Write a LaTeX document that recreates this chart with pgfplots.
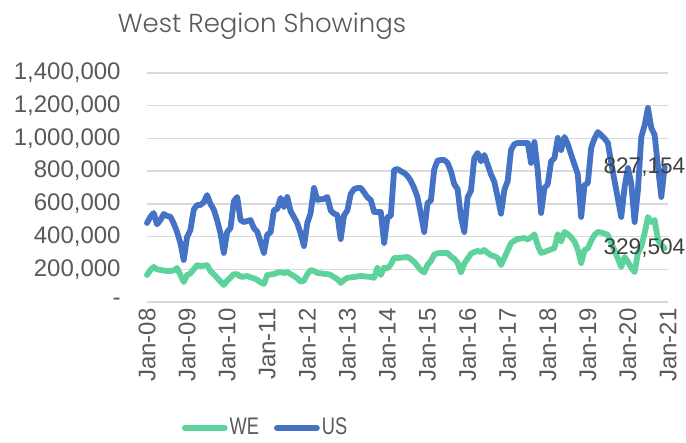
\documentclass[border=0pt]{standalone}
\usepackage{fontspec}
\setmainfont{Liberation Sans}
\newfontfamily\titlefont{Poppins}[UprightFont={* Light}]
\usepackage{pgfplots}
\usepackage{pgfplotstable}
\pgfplotsset{compat=1.18}
\definecolor{usblue}{HTML}{4472C4}
\definecolor{wegreen}{HTML}{5DD39B}
\definecolor{txtgray}{HTML}{595959}
\definecolor{lblgray}{HTML}{404040}
\definecolor{gridgray}{HTML}{D9D9D9}

% month index (0 = Jan-08), WE, US
\pgfplotstableread{
m we us
0 165000 483000
1 195000 520000
2 214000 544000
3 200000 475000
4 196000 500000
5 192000 538000
6 190000 526000
7 190000 522000
8 192000 480000
9 208000 428000
10 165000 360000
11 122000 257000
12 165000 397000
13 175000 440000
14 200000 565000
15 226000 593000
16 220000 593000
17 222000 610000
18 226000 654000
19 190000 600000
20 170000 565000
21 147000 500000
22 125000 420000
23 104000 300000
24 130000 428000
25 150000 452000
26 170000 615000
27 170000 642000
28 155000 501000
29 155000 489000
30 159000 495000
31 150000 501000
32 145000 452000
33 135000 430000
34 120000 367000
35 110000 300000
36 165000 412000
37 168000 425000
38 171000 562000
39 178000 568000
40 183000 636000
41 177000 580000
42 183000 642000
43 170000 555000
44 158000 520000
45 145000 480000
46 125000 420000
47 130000 342000
48 170000 483000
49 195000 544000
50 190000 697000
51 177000 624000
52 175000 628000
53 172000 630000
54 171000 642000
55 165000 560000
56 152000 540000
57 140000 532000
58 116000 385000
59 135000 530000
60 148000 560000
61 150000 660000
62 153000 690000
63 156000 697000
64 159000 697000
65 157000 670000
66 155000 640000
67 153000 624000
68 148000 550000
69 210000 550000
70 165000 550000
71 210000 361000
72 205000 520000
73 230000 526000
74 269000 807000
75 269000 813000
76 271000 800000
77 273000 789000
78 275000 770000
79 262000 740000
80 245000 697000
81 220000 640000
82 195000 540000
83 180000 428000
84 228000 605000
85 250000 620000
86 290000 810000
87 298000 865000
88 300000 868000
89 300000 868000
90 300000 850000
91 278000 800000
92 265000 720000
93 240000 690000
94 180000 520000
95 235000 428000
96 265000 640000
97 295000 680000
98 305000 880000
99 312000 911000
100 306000 860000
101 318000 899000
102 300000 840000
103 285000 780000
104 280000 735000
105 270000 640000
106 225000 540000
107 270000 685000
108 315000 740000
109 360000 930000
110 375000 965000
111 385000 972000
112 388000 972000
113 391000 972000
114 383000 972000
115 395000 850000
116 414000 978000
117 345000 800000
118 300000 544000
119 306000 697000
120 314000 720000
121 322000 860000
122 330000 880000
123 415000 1003000
124 370000 929000
125 428000 1009000
126 415000 965000
127 395000 900000
128 370000 840000
129 320000 780000
130 238000 520000
131 318000 715000
132 328000 727000
133 375000 942000
134 410000 1000000
135 428000 1039000
136 425000 1020000
137 418000 1000000
138 410000 972000
139 360000 850000
140 315000 740000
141 265000 630000
142 214000 520000
143 275000 700000
144 245000 819000
145 210000 727000
146 183000 489000
147 300000 685000
148 340000 1009000
149 420000 1080000
150 520000 1186000
151 489000 1064000
152 501000 1021000
153 379000 825000
154 348000 642000
155 329504 827154
}\showings

\begin{document}
\begin{tikzpicture}
\path[use as bounding box] (0pt,0pt) rectangle (343pt,221.5pt);
\node[font=\titlefont\fontsize{13}{16}\selectfont, text=txtgray, anchor=base] at (131pt,205pt) {West Region Showings};
\begin{axis}[
  at={(73.5pt,70.5pt)}, anchor=south west,
  scale only axis,
  width=260.5pt, height=114.5pt,
  xmin=0, xmax=156,
  ymin=0, ymax=1400000,
  xtick={0,12,...,156},
  xticklabels={Jan-08,Jan-09,Jan-10,Jan-11,Jan-12,Jan-13,Jan-14,Jan-15,Jan-16,Jan-17,Jan-18,Jan-19,Jan-20,Jan-21},
  ytick={0,200000,...,1400000},
  yticklabels={-,{200,000},{400,000},{600,000},{800,000},{1,000,000},{1,200,000},{1,400,000}},
  scaled y ticks=false,
  axis line style={draw=none},
  major tick style={draw=none},
  ymajorgrids,
  grid style={gridgray, line width=0.75pt},
  tick label style={font=\fontsize{12}{14}\selectfont, text=txtgray},
  xticklabel style={rotate=90, anchor=east, inner sep=0pt, xshift=-3pt},
  yticklabel style={anchor=east, inner sep=0pt, xshift=-13pt},
  legend columns=2,
  legend style={draw=none, fill=none, at={(rel axis cs:0.2275,-0.55)}, anchor=center,
    font=\fontsize{12}{14}\selectfont, text=txtgray,
    nodes={inner sep=1pt},
    /tikz/every even column/.append style={column sep=6.5pt}},
  legend image code/.code={\draw[#1, line cap=round] (0pt,0pt) -- (20pt,0pt);},
  clip=false,
]
\addplot[wegreen, line width=2.9pt, line join=round, line cap=round] table[x=m, y=we] {\showings};
\addlegendentry{\scalebox{0.76}[1]{WE}}
\addplot[usblue, line width=2.9pt, line join=round, line cap=round] table[x=m, y=us] {\showings};
\addlegendentry{\scalebox{0.76}[1]{US}}
\node[anchor=west, inner sep=0pt, font=\fontsize{11.3}{13}\selectfont, text=lblgray] at (axis cs:136.6,827154) {827,154};
\node[anchor=west, inner sep=0pt, font=\fontsize{11.3}{13}\selectfont, text=lblgray] at (axis cs:136.6,329504) {329,504};
\end{axis}
\end{tikzpicture}
\end{document}
